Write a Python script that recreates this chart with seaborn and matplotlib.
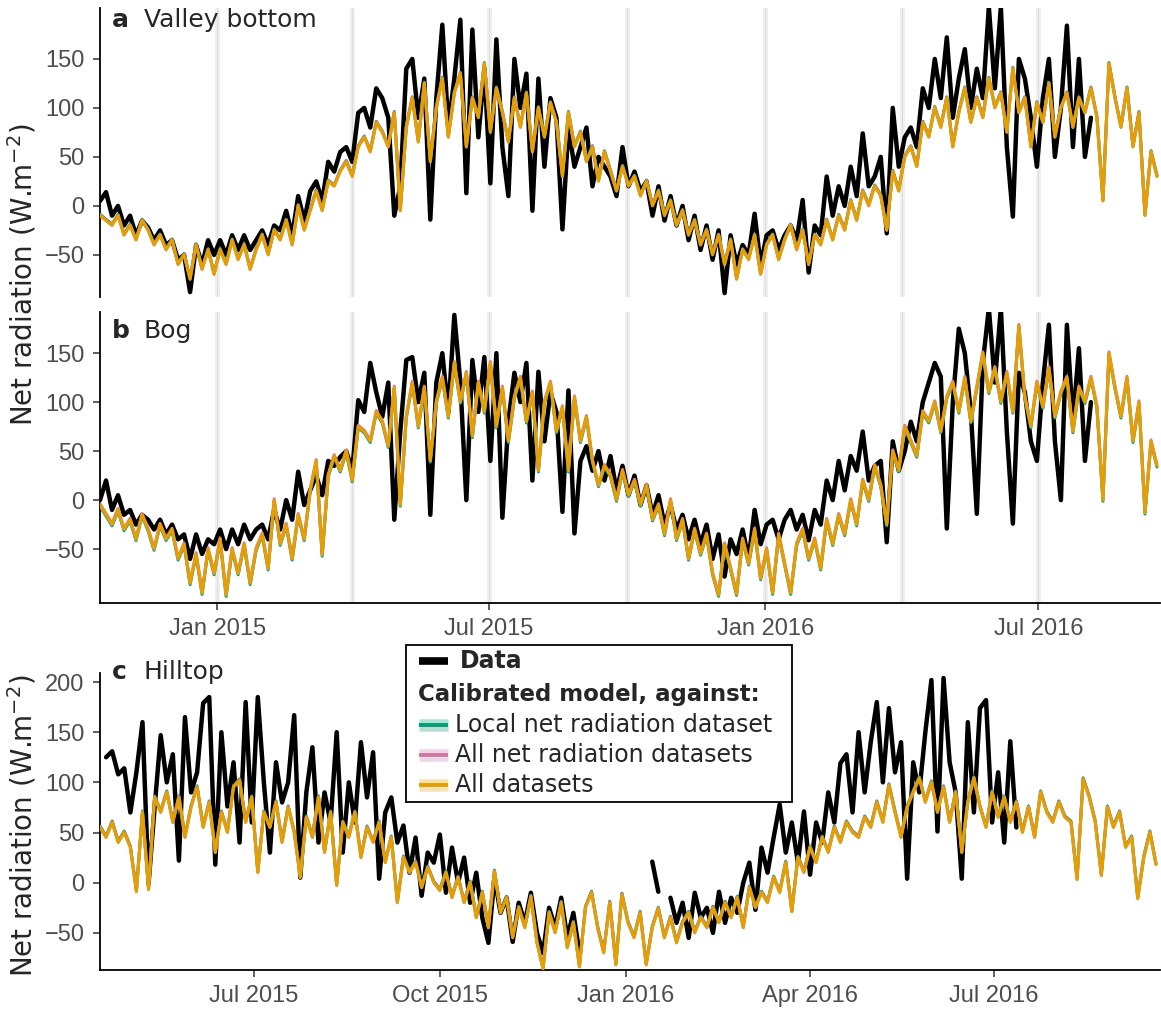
import numpy as np
import pandas as pd
import matplotlib
matplotlib.use("Agg")
import matplotlib.pyplot as plt
import matplotlib.dates as mdates
import matplotlib.transforms as mtransforms
from matplotlib.lines import Line2D
from matplotlib.patches import Rectangle
import seaborn as sns

# ---------------------------------------------------------------------------
# Net radiation (W m-2): observations and calibrated model runs
# Panels a/b sampled every 4 days from 2014-10-15, panel c every 3 days from 2015-04-16
# ---------------------------------------------------------------------------
ab_start, ab_step, ab_n = "2014-10-15", "4D", 177
c_start, c_step, c_n = "2015-04-16", "3D", 175

valley_obs = [
    5, 14, -10, 0, -20, -10, -30, -15, -22, -35,
    -25, -40, -35, -55, -50, -88, -40, -60, -35, -50,
    -35, -50, -30, -45, -30, -45, -35, -25, -40, -20,
    -25, -5, -30, 10, -15, 15, 25, 5, 45, 35,
    55, 60, 45, 95, 100, 80, 120, 110, 90, -10,
    20, 140, 150, 90, 130, -14, 110, 185, 80, 130,
    190, 13, 180, 70, 140, 23, 170, 60, 10, 150,
    100, 135, -5, 130, 40, 110, 90, -24, 80, 40,
    60, 80, 20, 50, 40, 30, 10, 60, 20, 35,
    15, 25, -10, 20, -15, 10, -20, 0, -35, -10,
    -45, -20, -55, -25, -89, -30, -60, -40, -50, -8,
    -60, -30, -25, -45, -30, -20, -35, 6, -68, -20,
    -30, 30, -10, 20, 0, 40, 10, 74, 20, 30,
    50, -28, 100, 40, 70, 80, 60, 120, 100, 150,
    110, 172, 90, 130, 160, 100, 140, 110, 203, 120,
    203, 60, -11, 150, 130, 90, 40, 110, 150, 50,
    100, 184, 60, 150, 50, 90,
]
valley_model = [
    -10, -15, -20, -10, -30, -20, -35, -15, -25, -40,
    -30, -45, -35, -60, -50, -75, -40, -65, -45, -70,
    -45, -60, -35, -55, -40, -65, -45, -30, -50, -25,
    -35, -15, -40, 0, -25, -5, 15, -5, 25, 20,
    35, 45, 30, 60, 70, 55, 85, 75, 60, 95,
    -5, 80, 110, 65, 125, 45, 100, 130, 70, 115,
    135, 60, 110, 90, 145, 75, 120, 95, 65, 110,
    80, 115, 55, 100, 70, 105, 85, 30, 95, 60,
    75, 45, 60, 25, 55, 35, 15, 40, 20, 30,
    10, 25, 0, 15, -10, 5, -20, -5, -30, -15,
    -40, -25, -50, -30, -60, -35, -75, -45, -55, -30,
    -70, -40, -30, -55, -35, -20, -45, -25, -60, -30,
    -40, -15, -35, -10, -25, 5, -15, 15, 0, 20,
    10, -25, 35, 15, 50, 60, 40, 85, 70, 100,
    80, 110, 60, 95, 120, 85, 110, 90, 130, 100,
    115, 75, 140, 95, 110, 60, 105, 85, 125, 70,
    100, 115, 80, 110, 95, 120, 90, 5, 145, 110,
    80, 120, 60, 95, -10, 55, 30,
]

bog_obs = [
    0, 20, -10, 5, -15, -10, -25, -15, -20, -30,
    -20, -35, -25, -40, -35, -60, -35, -55, -40, -45,
    -30, -50, -30, -45, -25, -40, -30, -25, -40, -10,
    -30, 0, -20, 29, -5, 10, 25, 5, 40, 35,
    44, 50, 30, 102, 90, 140, 110, 85, 120, -20,
    70, 143, 146, 100, 130, -15, 120, 150, 90, 189,
    120, 0, 143, 90, 146, 40, 150, -18, 80, 130,
    100, 140, 20, 131, 60, 110, 90, -12, 112, -34,
    40, 55, 30, 50, 20, 45, 10, 35, 5, 25,
    -5, 15, -15, 5, -25, -5, -30, -15, -40, -20,
    -45, -25, -60, -35, -78, -40, -55, -30, -60, -10,
    -45, -25, -20, -40, -20, -10, -30, -15, -41, -10,
    -25, 20, 0, 40, 10, 45, 30, 70, 20, 35,
    40, -43, 60, 30, 50, 80, 60, 100, 120, 140,
    126, -29, 100, 175, 150, 90, -14, 140, 196, 120,
    196, 70, -24, 130, 110, 60, 40, 120, 179, 60,
    0, 179, 80, 155, 40, 100,
]
bog_model = [
    -5, -15, -25, -10, -30, -20, -40, -15, -30, -50,
    -25, -40, -30, -60, -45, -85, -55, -95, -50, -75,
    -40, -97, -50, -75, -45, -85, -50, -35, -70, 0,
    -45, -25, -60, -15, -40, 10, 40, -56, 25, 45,
    30, 50, 20, 75, 70, 60, 90, 80, 55, 115,
    -5, 85, 120, 75, 115, 40, 100, 125, 85, 140,
    100, 130, 65, 120, 90, 140, 75, 115, 60, 105,
    125, 80, 110, 30, 100, 120, 70, 95, 30, 105,
    60, 85, 40, 15, 35, 25, 0, 30, 5, 20,
    -5, 15, -20, -5, -35, 0, -40, -20, -60, -30,
    -55, -35, -75, -97, -45, -70, -96, -40, -65, -30,
    -80, -50, -95, -35, -65, -95, -45, -30, -60, -40,
    -70, -20, -45, -15, -35, 0, -25, 20, 0, 35,
    15, -25, 50, 30, 75, 60, 45, 90, 80, 100,
    70, 105, 120, 90, 125, 80, 115, 150, 110, 135,
    100, 130, 90, 178, 105, 75, 120, 95, 135, 85,
    110, 125, 70, 115, 100, 125, 95, 0, 150, 115,
    85, 125, 60, 100, -13, 60, 35,
]

nan = np.nan
hilltop_obs = [
    nan, 125, 131, 108, 114, 70, 110, 160, -1, 75,
    147, 100, 128, 22, 165, 90, 110, 179, 185, 18,
    150, 76, 120, 40, 180, 60, 185, 100, 30, 120,
    80, 100, 167, 5, 90, 135, 40, 90, 60, 150,
    30, 100, 60, 140, 85, 130, 4, 70, 85, 40,
    57, 10, 45, -13, 30, 20, 48, -10, 35, 0,
    25, -20, 10, -35, -60, 5, -30, -15, -59, -20,
    -40, -10, -50, -70, -25, -45, -15, -55, -30, -70,
    nan, nan, nan, nan, nan, nan, nan, nan, nan, nan,
    nan, 21, -9, nan, -15, -40, -20, -55, -10, -35,
    -25, -50, -9, -40, -15, -30, 0, 20, -27, 35,
    10, 45, 78, 30, 60, 20, 71, 8, 60, 40,
    90, 60, 119, 128, 70, 150, 90, 140, 180, 100,
    174, 110, 140, 4, 120, 90, 150, 202, 51, 204,
    120, 90, 4, 160, 70, 174, 182, 60, 110, 40,
    141, 55,
]
hilltop_model = [
    55, 45, 60, 40, 50, 35, -9, 70, -7, 85,
    70, 90, 60, 85, 45, 75, 95, 55, 80, 30,
    70, 50, 95, 102, 60, 85, 10, 70, 55, 80,
    40, 75, 50, 5, 65, 45, 85, 30, 70, -3,
    60, 45, 70, 25, 55, 40, 60, 20, 45, -20,
    25, 10, 20, -5, 15, 0, -8, 10, -15, 5,
    -20, 0, -35, -10, -45, 11, -30, -15, -55, -25,
    -45, -14, -60, -86, -30, -50, -20, -65, -40, -84,
    -25, -10, -45, -70, -20, -82, -12, -40, -55, -30,
    -82, -45, -26, -55, -35, -60, -40, -30, -50, -35,
    -45, -25, -40, -20, -35, -15, -45, -5, -25, -10,
    -20, 5, -10, 20, -29, 25, 10, 35, 20, 45,
    30, 55, 40, 60, 50, 45, 65, 55, 80, 60,
    97, 70, 45, 75, 90, 104, 80, 100, 70, 95,
    60, 90, 30, 80, 104, 75, 55, 90, 65, 85,
    60, 80, 50, 75, 45, 90, 70, 60, 80, 65,
    60, 3, 103, 85, 60, 7, 75, 55, 70, 35,
    45, -16, 25, 50, 18,
]

panel_titles = [("a", "Valley bottom"), ("b", "Bog"), ("c", "Hilltop")]
model_labels = ["Local net radiation dataset", "All net radiation datasets", "All datasets"]
model_colors = ["#009E73", "#CC79A7", "#E69F00"]
ylabel_text = r"Net radiation (W.m$^{-2}$)"

# ---------------------------------------------------------------------------
sns.set_theme(style="ticks")
plt.rcParams["font.family"] = ["DejaVu Sans"]

W, H = 1161, 1009
fig = plt.figure(figsize=(W / 100, H / 100), dpi=100)
fig.patch.set_facecolor("white")


def px_box(left, top, right, bottom):
    return [left / W, 1 - bottom / H, (right - left) / W, (bottom - top) / H]


def fx(x):
    return x / W


def fy(y):
    return 1 - y / H


ax_a = fig.add_axes(px_box(100, 8, 1160, 297))
ax_b = fig.add_axes(px_box(100, 312, 1160, 603))
ax_c = fig.add_axes(px_box(100, 673, 1160, 970))

ab_dates = pd.date_range(ab_start, periods=ab_n, freq=ab_step)
c_dates = pd.date_range(c_start, periods=c_n, freq=c_step)


def draw_series(ax, dates, obs, model, shifts):
    obs_df = pd.DataFrame({"date": dates[: len(obs)], "value": obs})
    obs_df["run"] = obs_df["value"].isna().cumsum()
    obs_df = obs_df.dropna()
    sns.lineplot(data=obs_df, x="date", y="value", units="run", estimator=None,
                 color="black", lw=3.2, ax=ax, legend=False, zorder=3)
    model_df = pd.DataFrame({"date": dates, "value": model})
    for color, dy in zip(model_colors, shifts):
        sns.lineplot(data=model_df, x="date", y="value", estimator=None,
                     color=color, lw=2.2, ax=ax, legend=False, zorder=4)
        line = ax.lines[-1]
        line.set_transform(ax.transData +
                           mtransforms.ScaledTranslation(0, dy / 100, fig.dpi_scale_trans))


def style_axes(ax, yticks, ylim, xlim, show_x):
    ax.set_xlim(*xlim)
    ax.set_ylim(*ylim)
    ax.set_yticks(yticks)
    ax.set_xlabel("")
    ax.set_ylabel("")
    ax.set_facecolor("white")
    for s in ["top", "right"]:
        ax.spines[s].set_visible(False)
    ax.spines["left"].set_linewidth(1.3)
    ax.spines["left"].set_color("black")
    if show_x:
        ax.spines["bottom"].set_linewidth(1.3)
        ax.spines["bottom"].set_color("black")
    else:
        ax.spines["bottom"].set_visible(False)
        ax.tick_params(axis="x", bottom=False, labelbottom=False)
    ax.tick_params(length=5, width=1.1, color="#333333", labelsize=17,
                   labelcolor="#4d4d4d", labelfontfamily="Liberation Sans", pad=6)


ab_xlim = (pd.Timestamp("2014-10-15"), pd.Timestamp("2016-09-20"))
c_xlim = (pd.Timestamp("2015-04-16"), pd.Timestamp("2016-09-21"))
quarters = pd.to_datetime(["2015-01-01", "2015-04-01", "2015-07-01", "2015-10-01",
                           "2016-01-01", "2016-04-01", "2016-07-01"])

for ax, obs, model, shifts in [(ax_a, valley_obs, valley_model, (1.3, 0.7, 0.0)),
                               (ax_b, bog_obs, bog_model, (-1.2, 1.3, 0.0))]:
    for q in quarters:
        ax.axvline(q, color="#efefef", lw=3.5, zorder=0.5)
        ax.axvline(q, color="#dadada", lw=0.6, zorder=0.6)
    draw_series(ax, ab_dates, obs, model, shifts)

draw_series(ax_c, c_dates, hilltop_obs, hilltop_model, (1.5, 0.7, 0.0))

style_axes(ax_a, [-50, 0, 50, 100, 150], (-93, 202), ab_xlim, False)
style_axes(ax_b, [-50, 0, 50, 100, 150], (-105, 192), ab_xlim, True)
style_axes(ax_c, [-50, 0, 50, 100, 150, 200], (-87, 209), c_xlim, True)

ax_b.set_xticks(pd.to_datetime(["2015-01-01", "2015-07-01", "2016-01-01", "2016-07-01"]))
ax_b.xaxis.set_major_formatter(mdates.DateFormatter("%b %Y"))
ax_c.set_xticks(pd.to_datetime(["2015-07-01", "2015-10-01", "2016-01-01",
                                "2016-04-01", "2016-07-01"]))
ax_c.xaxis.set_major_formatter(mdates.DateFormatter("%b %Y"))

# Panel tags and site names
for (tag, name), ypx in zip(panel_titles, [20, 331, 672]):
    fig.text(fx(112), fy(ypx), tag, fontsize=18, fontweight="bold", va="center", ha="left")
    fig.text(fx(144), fy(ypx), name, fontsize=18, va="center", ha="left")

# Shared y-axis titles
fig.text(fx(22), fy(275), ylabel_text, rotation=90, fontsize=20, va="center", ha="center")
fig.text(fx(22), fy(826), ylabel_text, rotation=90, fontsize=20, va="center", ha="center")

# Legend box drawn in figure pixels
box = Rectangle((fx(406), fy(802)), (792 - 406) / W, (802 - 645) / H,
                transform=fig.transFigure, facecolor="white", edgecolor="black",
                lw=1.3, zorder=20)
fig.add_artist(box)
key_x0, key_x1 = fx(419), fx(448)
fig.add_artist(Line2D([key_x0, key_x1], [fy(661), fy(661)], transform=fig.transFigure,
                      color="black", lw=5.5, solid_capstyle="butt", zorder=21))
fig.text(fx(460), fy(661), "Data", fontsize=17, fontweight="bold", va="center",
         ha="left", zorder=21)
fig.text(fx(418), fy(694), "Calibrated model, against:", fontsize=16.5,
         fontweight="bold", va="center", ha="left", zorder=21)
for label, color, ypx in zip(model_labels, model_colors, [725, 755, 785]):
    fig.add_artist(Line2D([key_x0, key_x1], [fy(ypx), fy(ypx)], transform=fig.transFigure,
                          color=color, alpha=0.3, lw=9, solid_capstyle="butt", zorder=21))
    fig.add_artist(Line2D([key_x0, key_x1], [fy(ypx), fy(ypx)], transform=fig.transFigure,
                          color=color, lw=2.8, solid_capstyle="butt", zorder=22))
    fig.text(fx(455), fy(ypx), label, fontsize=17, va="center", ha="left", zorder=22)

fig.savefig("out.png", dpi=100, facecolor="white")
